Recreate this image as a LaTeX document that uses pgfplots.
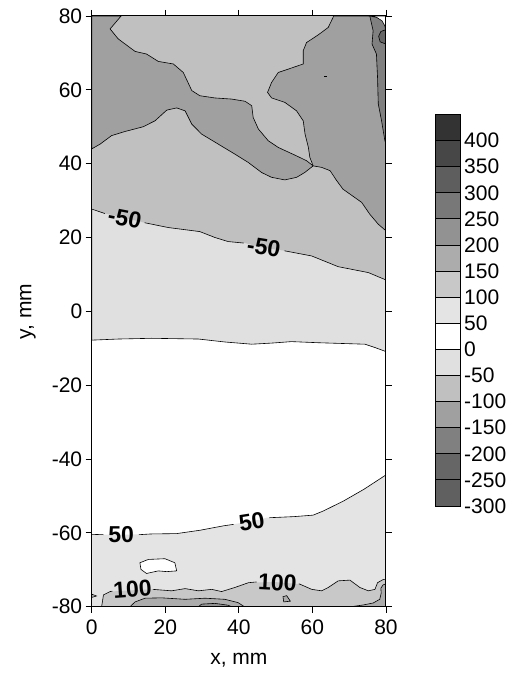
\documentclass[border=0pt]{standalone}
\usepackage{fontspec}
\setmainfont{Liberation Sans}
\usepackage{pgfplots}
\pgfplotsset{compat=1.18}
\newcommand\bigf{\fontsize{21bp}{25bp}\selectfont}
\newcommand\labf{\fontsize{23bp}{27bp}\selectfont\bfseries}

% shades: negative stress (n) and positive stress (p)
\definecolor{nA}{HTML}{E0E0E0}
\definecolor{nB}{HTML}{C0C0C0}
\definecolor{nC}{HTML}{A0A0A0}
\definecolor{nD}{HTML}{808080}
\definecolor{nE}{HTML}{666666}
\definecolor{nF}{HTML}{606060}
\definecolor{pB}{HTML}{E4E4E4}
\definecolor{pC}{HTML}{C8C8C8}
\definecolor{pD}{HTML}{ACACAC}
\definecolor{pE}{HTML}{929292}
\definecolor{pF}{HTML}{787878}
\definecolor{pG}{HTML}{5E5E5E}
\definecolor{pH}{HTML}{474747}
\definecolor{pI}{HTML}{333333}

\begin{document}
\begin{tikzpicture}
\useasboundingbox (0,0) rectangle (518bp,690bp);
\begin{axis}[
    at={(91.7bp,83.3bp)}, anchor=south west,
    scale only axis, width=294.3bp, height=590.7bp,
    xmin=0, xmax=80, ymin=-80, ymax=80,
    xtick={0,20,40,60,80}, xticklabels={0,20,40,60,80},
    ytick={-80,-60,-40,-20,0,20,40,60,80},
    yticklabels={-80,-60,-40,-20,0,20,40,60,80},
    tick align=outside, tick pos=both, major tick length=6bp,
    ticklabel style={font=\bigf},
    xticklabel style={yshift=-4bp},
    axis line style={line width=1bp},
    every tick/.style={black, line width=0.8bp},
    axis on top,
    xlabel={x, mm}, ylabel={y, mm},
    every axis x label/.style={at={(axis description cs:0.5,-0.09)}, anchor=center, font=\bigf},
    every axis y label/.style={at={(axis description cs:-0.2165,0.5)}, anchor=center, rotate=90, font=\bigf},
    contour/.style={black, line width=0.6bp},
]
% between 0 and -50
\addplot[fill=nA, draw=black, line width=0.6bp] coordinates {
    (0,-7.8) (7.2,-7.5) (16.3,-7.3) (29.0,-7.5) (36.2,-8.3) (43.5,-8.9)
    (48.9,-8.6) (54.3,-8.2) (61.6,-8.5) (74.3,-8.9) (77.0,-9.8) (80,-10.9)
    (80,80) (0,80)} -- cycle;
% between -50 and -100
\addplot[fill=nB, draw=none] coordinates {
    (0,27.7) (4.5,26.3) (9.0,25.3) (14.0,24.1) (20.8,22.7) (29.4,21.6)
    (33.5,20.0) (37.1,18.9) (41.7,18.5) (46.2,17.3) (52.5,16.4) (59.8,15.0)
    (67.0,12.1) (75.2,10.5) (80,8.5) (80,80) (0,80)} -- cycle;
\addplot[contour] coordinates {(0,27.7) (3.6,26.5)};
\addplot[contour] coordinates {(14.4,24.0) (20.8,22.7) (29.4,21.6) (33.5,20.0) (37.1,18.9) (41.3,18.5)};
\addplot[contour] coordinates {(52.4,16.4) (59.8,15.0) (67.0,12.1) (75.2,10.5) (80,8.5)};
% between -100 and -150, left band
\addplot[fill=nC, draw=black, line width=0.6bp] coordinates {
    (8.0,80) (5.0,76.5) (7.2,73.8) (11.8,70.4) (14.9,69.7) (18.1,67.7)
    (22.2,67.0) (24.9,64.7) (27.2,59.8) (29.4,58.4) (33.5,57.8) (38.0,57.5)
    (41.7,56.9) (43.5,55.7) (43.9,52.5) (45.3,49.4) (48.0,46.2) (50.7,44.4)
    (55.7,42.1) (58.4,40.8) (60.2,39.4)
    (57.9,37.6) (55.7,36.3) (52.5,35.6) (48.9,36.3) (46.2,37.6) (42.6,40.3)
    (38.9,42.6) (34.4,45.3) (29.9,48.0) (27.2,50.7) (25.4,54.3) (23.1,55.1)
    (20.4,54.5) (17.2,51.6) (14.0,50.0) (9.0,48.7) (5.4,47.6) (2.3,45.3)
    (0,44.0) (0,80)} -- cycle;
% between -100 and -150, right part
\addplot[fill=nC, draw=black, line width=0.6bp] coordinates {
    (65.8,80) (64.3,76.9) (61.6,74.9) (58.4,72.8) (57.5,70.6) (57.5,67.0)
    (53.4,65.6) (50.7,64.7) (48.9,62.0) (47.8,59.3) (48.9,57.8) (52.5,56.6)
    (55.7,54.3) (57.5,51.6) (58.0,48.0) (58.9,44.4) (59.3,41.7) (60.2,39.4)
    (62.5,39.0) (64.8,38.1) (66.6,35.4) (68.3,33.1) (73.4,29.5) (75.6,26.3)
    (77.9,23.6) (80,21.8) (80,80)} -- cycle;
\addplot[black, line width=1.2bp] coordinates {(63.2,63.6) (64.0,63.6)};
% between -150 and -200
\addplot[fill=nD, draw=black, line width=0.6bp] coordinates {
    (75.6,80) (76.5,76.0) (76.2,72.4) (77.4,69.7) (77.7,63.4) (77.9,56.2)
    (78.8,51.6) (79.7,46.2) (80,45.5) (80,80)} -- cycle;
\addplot[fill=nE, draw=black, line width=0.6bp] coordinates {
    (80,76.3) (78.6,75.8) (78.0,74.5) (78.4,73.0) (80,72.4)} -- cycle;
% no data in the corner
\addplot[fill=white, draw=black, line width=0.6bp] coordinates {
    (75.6,80) (77.5,79.6) (78.9,78.7) (79.7,77.3) (80,75.6) (80,80)} -- cycle;

% between 50 and 100
\addplot[fill=pB, draw=none] coordinates {
    (0,-60.4) (7.7,-60.5) (13.6,-60.4) (23.1,-60.2) (29.4,-59.3) (35.8,-58.1)
    (43.9,-56.8) (47.6,-55.9) (55,-55.6) (60.2,-55.2) (62.9,-54.1) (68.4,-51.4)
    (74,-48.2) (80,-44.3) (80,-80) (0,-80)} -- cycle;
\addplot[contour] coordinates {(0,-60.4) (3.2,-60.5)};
\addplot[contour] coordinates {(12.8,-60.5) (16,-60.3) (23.1,-60.2) (29.4,-59.3) (35.8,-58.1) (38.6,-57.7)};
\addplot[contour] coordinates {(48.3,-55.9) (55,-55.6) (60.2,-55.2) (62.9,-54.1) (68.4,-51.4) (74,-48.2) (80,-44.3)};
\addplot[fill=white, draw=black, line width=0.6bp] coordinates {
    (13.1,-68.1) (15.4,-67.2) (19.9,-67.0) (22.6,-68.1) (23.1,-70.3)
    (20.4,-70.5) (18.1,-70.3) (14.9,-71.0) (13.4,-69.9)} -- cycle;
% between 100 and 150
\addplot[fill=pC, draw=none] coordinates {
    (2.7,-80) (3.2,-76.8) (5.0,-75.9) (10,-75.6) (16.3,-75.3) (21.7,-75.7)
    (25.4,-75.1) (29.0,-75.7) (32.6,-75.3) (35.3,-75.9) (38.9,-74.8)
    (42.6,-73.5) (49.5,-73.3) (56.6,-73.9) (59.8,-75.3) (62.5,-75.7)
    (64.3,-74.8) (67.0,-73.0) (70.2,-72.8) (72.9,-74.8) (75.2,-75.7)
    (77.0,-75.3) (77.7,-73.5) (79.3,-72.6) (80,-72.6) (80,-80)} -- cycle;
\addplot[contour] coordinates {(2.7,-80) (3.2,-76.8) (5.0,-75.9) (5.6,-75.8)};
\addplot[contour] coordinates {(16.6,-75.3) (21.7,-75.7) (25.4,-75.1) (29.0,-75.7)
    (32.6,-75.3) (35.3,-75.9) (38.9,-74.8) (42.6,-73.5) (44.8,-73.3)};
\addplot[contour] coordinates {(56.3,-73.8) (56.6,-73.9) (59.8,-75.3) (62.5,-75.7)
    (64.3,-74.8) (67.0,-73.0) (70.2,-72.8) (72.9,-74.8) (75.2,-75.7)
    (77.0,-75.3) (77.7,-73.5) (79.3,-72.6) (80,-72.6)};
\addplot[fill=pC, draw=black, line width=0.6bp] coordinates {
    (0,-76.6) (1.3,-77.1) (0,-77.5)} -- cycle;
% between 150 and 200
\addplot[fill=pD, draw=black, line width=0.6bp] coordinates {
    (10.4,-80) (11.8,-78.7) (14.5,-77.7) (19.0,-77.6) (25.4,-78.0)
    (30.8,-77.7) (36.2,-78.0) (39.8,-78.9) (41.5,-80)} -- cycle;
\addplot[fill=pD, draw=black, line width=0.6bp] coordinates {
    (70.5,-80) (74,-79.5) (76.5,-79.0) (78.3,-78.0) (78.7,-76.3) (78.6,-75.0)
    (79.2,-74.1) (80,-73.8) (80,-80)} -- cycle;
\addplot[fill=pD, draw=black, line width=0.6bp] coordinates {
    (52.0,-77.3) (53.0,-77.0) (54.0,-78.5) (52.2,-78.7)} -- cycle;
\addplot[fill=pE, draw=black, line width=0.6bp] coordinates {
    (29.0,-80) (29.9,-79.3) (33.5,-79.1) (37.1,-79.6) (38.0,-80)} -- cycle;

% contour labels
\node[font=\labf, rotate=-11, inner sep=0pt] at (axis cs:9.0,25.2) {-50};
\node[font=\labf, rotate=-9, inner sep=0pt] at (axis cs:46.8,17.3) {-50};
\node[font=\labf, inner sep=0pt] at (axis cs:8.0,-60.6) {50};
\node[font=\labf, rotate=9, inner sep=0pt] at (axis cs:43.5,-56.9) {50};
\node[font=\labf, rotate=4, inner sep=0pt] at (axis cs:11.1,-75.2) {100};
\node[font=\labf, rotate=-3, inner sep=0pt] at (axis cs:50.5,-73.5) {100};
\end{axis}

% colour key
\begin{axis}[
    at={(435bp,184bp)}, anchor=south west,
    scale only axis, width=25bp, height=391.5bp,
    xmin=0, xmax=1, ymin=-300, ymax=450,
    xtick=\empty,
    ytick={-300,-250,-200,-150,-100,-50,0,50,100,150,200,250,300,350,400},
    yticklabels={-300,-250,-200,-150,-100,-50,0,50,100,150,200,250,300,350,400},
    yticklabel pos=right, major tick length=0pt,
    yticklabel style={font=\bigf, anchor=west, inner xsep=0pt, xshift=4bp},
    axis line style={line width=0.8bp},
    box/.style={draw=black, line width=0.8bp},
]
\addplot[box, fill=nF] coordinates {(0,-300) (1,-300) (1,-250) (0,-250)} -- cycle;
\addplot[box, fill=nE] coordinates {(0,-250) (1,-250) (1,-200) (0,-200)} -- cycle;
\addplot[box, fill=nD] coordinates {(0,-200) (1,-200) (1,-150) (0,-150)} -- cycle;
\addplot[box, fill=nC] coordinates {(0,-150) (1,-150) (1,-100) (0,-100)} -- cycle;
\addplot[box, fill=nB] coordinates {(0,-100) (1,-100) (1,-50) (0,-50)} -- cycle;
\addplot[box, fill=nA] coordinates {(0,-50) (1,-50) (1,0) (0,0)} -- cycle;
\addplot[box, fill=white] coordinates {(0,0) (1,0) (1,50) (0,50)} -- cycle;
\addplot[box, fill=pB] coordinates {(0,50) (1,50) (1,100) (0,100)} -- cycle;
\addplot[box, fill=pC] coordinates {(0,100) (1,100) (1,150) (0,150)} -- cycle;
\addplot[box, fill=pD] coordinates {(0,150) (1,150) (1,200) (0,200)} -- cycle;
\addplot[box, fill=pE] coordinates {(0,200) (1,200) (1,250) (0,250)} -- cycle;
\addplot[box, fill=pF] coordinates {(0,250) (1,250) (1,300) (0,300)} -- cycle;
\addplot[box, fill=pG] coordinates {(0,300) (1,300) (1,350) (0,350)} -- cycle;
\addplot[box, fill=pH] coordinates {(0,350) (1,350) (1,400) (0,400)} -- cycle;
\addplot[box, fill=pI] coordinates {(0,400) (1,400) (1,450) (0,450)} -- cycle;
\node[font=\bigf, anchor=base west] at (rel axis cs:1,1) [xshift=6bp, yshift=2bp] {MPa};
\end{axis}
\end{tikzpicture}
\end{document}
